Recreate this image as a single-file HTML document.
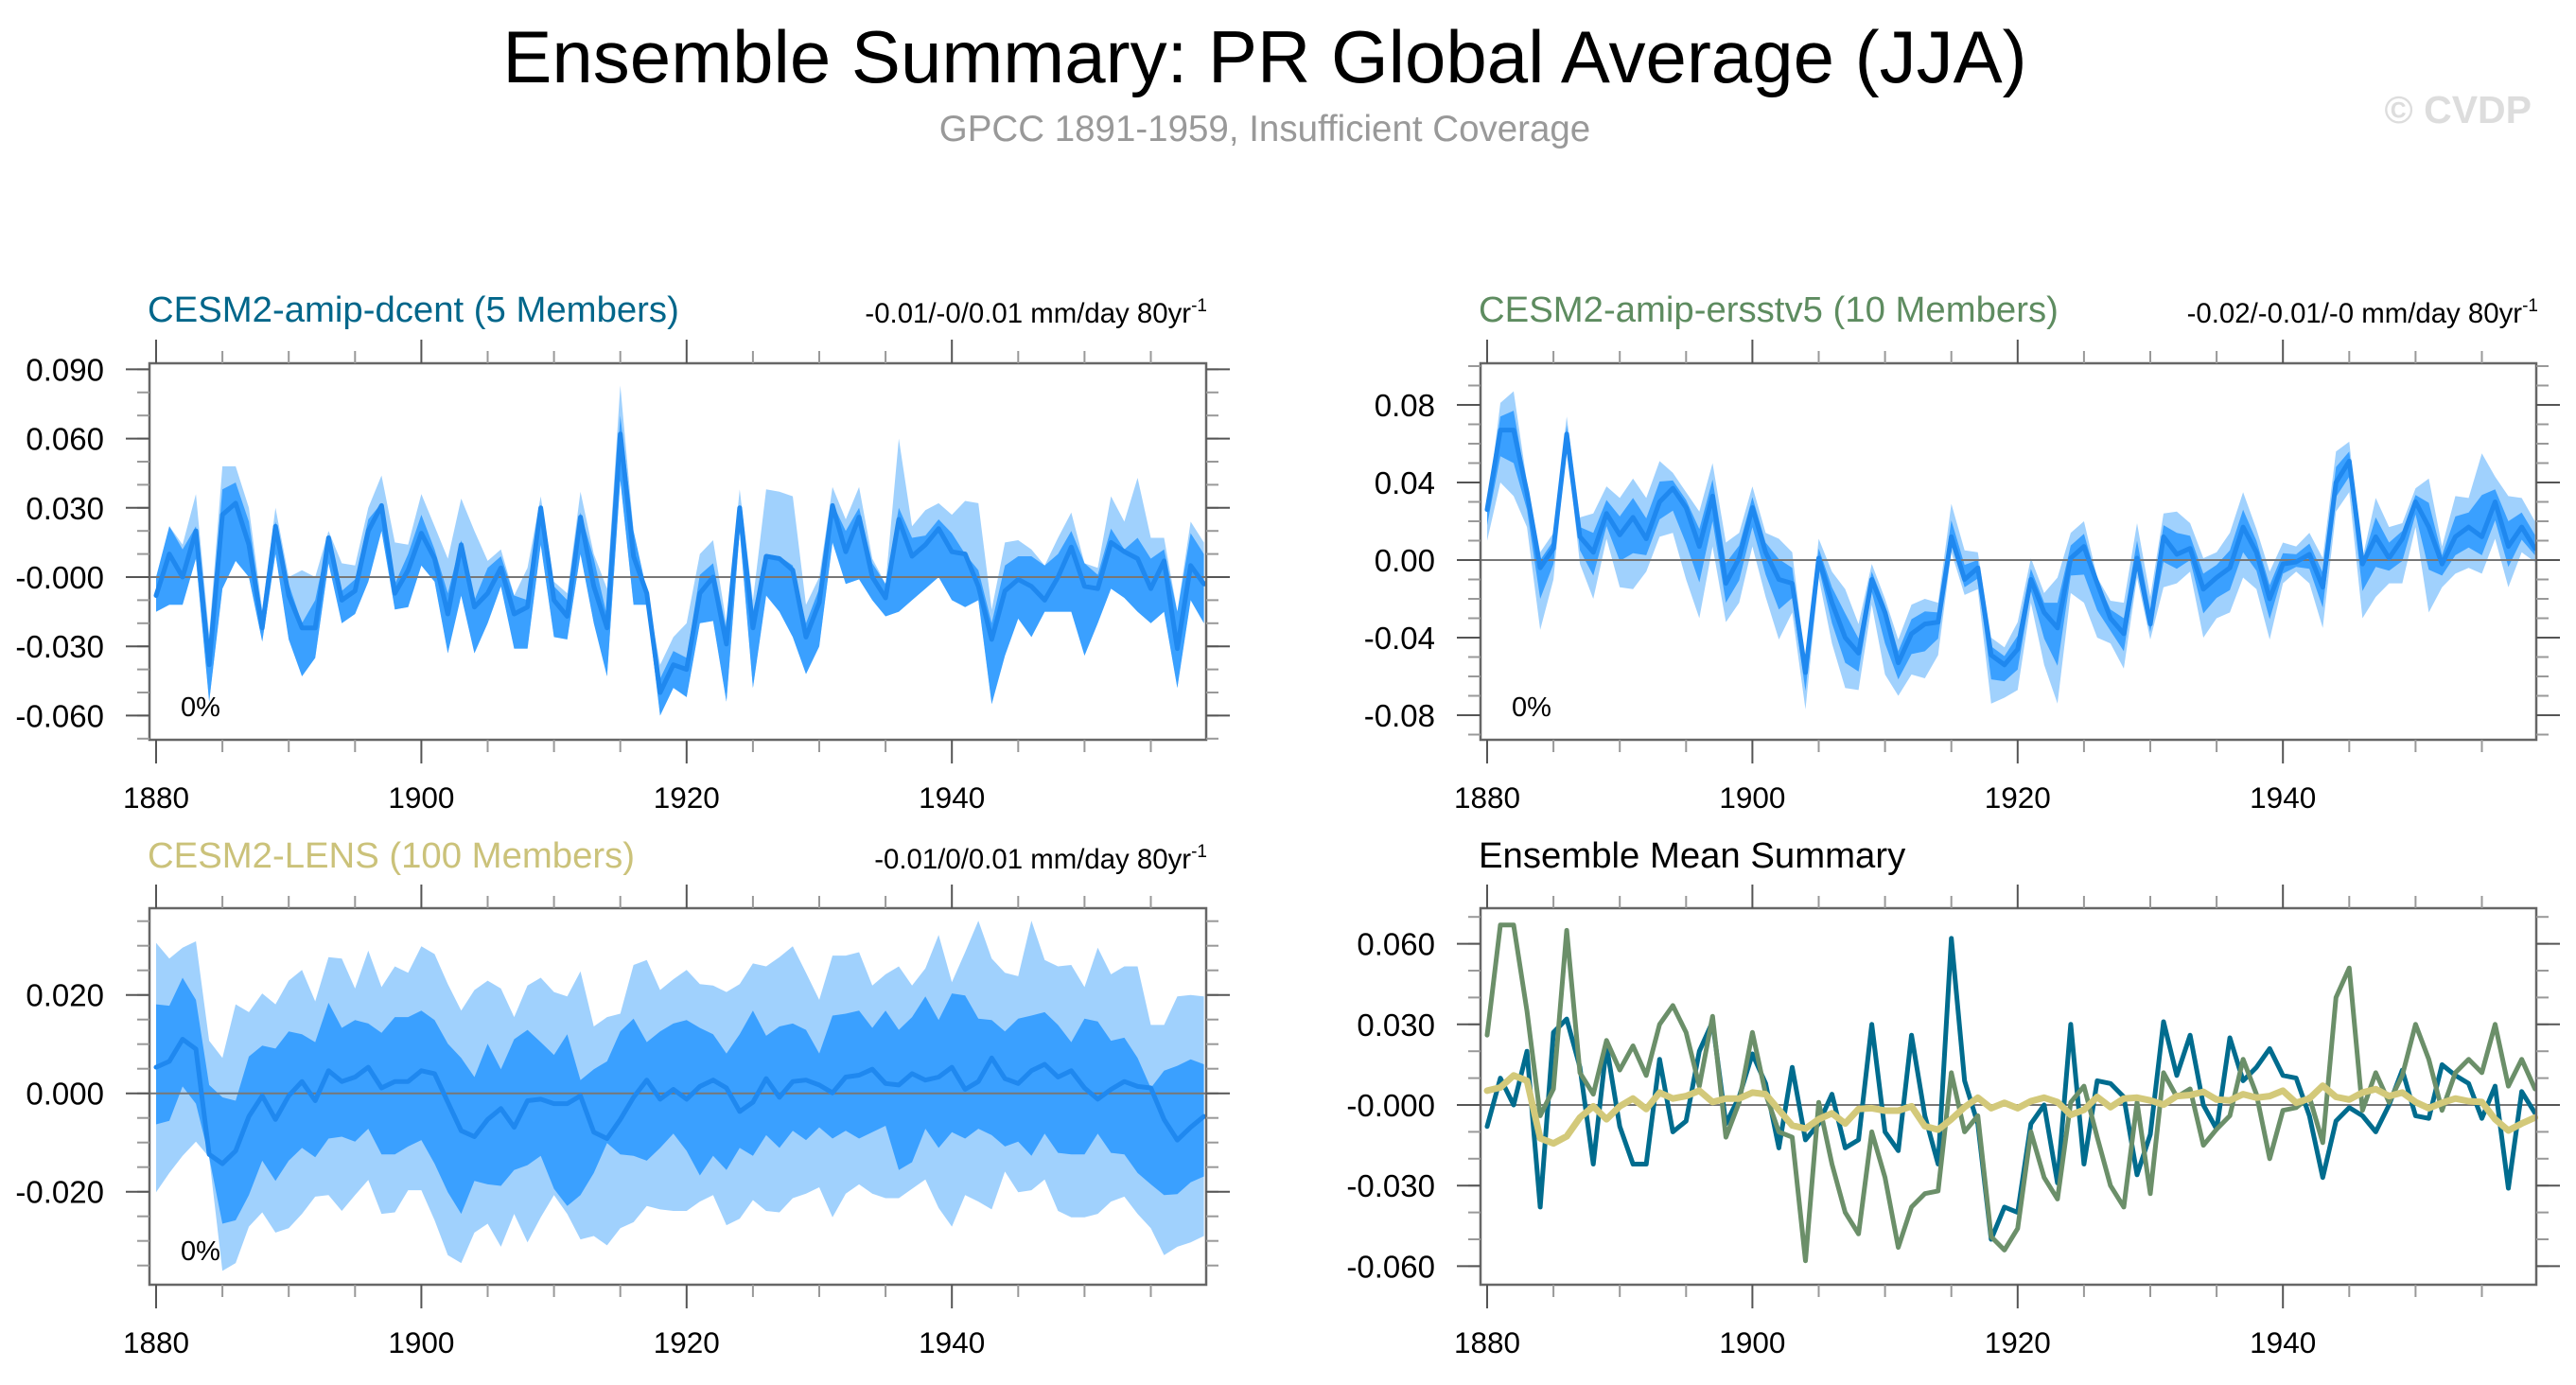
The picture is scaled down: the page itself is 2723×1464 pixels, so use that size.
<!DOCTYPE html>
<html><head><meta charset="utf-8">
<style>
html,body{margin:0;padding:0;background:#fff;}
svg{display:block;font-family:"Liberation Sans",sans-serif;}
</style></head>
<body>
<svg id="chart" width="2723" height="1464" viewBox="0 0 2723 1464" xmlns="http://www.w3.org/2000/svg">
<rect x="0" y="0" width="2723" height="1464" fill="#fff"/>
<text x="1337" y="87" font-size="78" text-anchor="middle" fill="#000">Ensemble Summary: PR Global Average (JJA)</text>
<text x="1337" y="149" font-size="38.5" text-anchor="middle" fill="#999">GPCC 1891-1959, Insufficient Coverage</text>
<text x="2676" y="130" font-size="41" font-weight="bold" text-anchor="end" fill="#ddd">© CVDP</text>

<text x="156" y="340" font-size="38.3" fill="#00668a">CESM2-amip-dcent (5 Members)</text>
<text x="1276" y="341" font-size="29.4" text-anchor="end" fill="#000">-0.01/-0/0.01 mm/day 80yr<tspan dy="-12" font-size="19">-1</tspan></text>
<text x="1563" y="340" font-size="38.3" fill="#5e8c60">CESM2-amip-ersstv5 (10 Members)</text>
<text x="2683" y="341" font-size="29.4" text-anchor="end" fill="#000">-0.02/-0.01/-0 mm/day 80yr<tspan dy="-12" font-size="19">-1</tspan></text>
<text x="156" y="917" font-size="38.3" fill="#cbc27a">CESM2-LENS (100 Members)</text>
<text x="1276" y="918" font-size="29.4" text-anchor="end" fill="#000">-0.01/0/0.01 mm/day 80yr<tspan dy="-12" font-size="19">-1</tspan></text>
<text x="1563" y="917" font-size="38.3" fill="#000">Ensemble Mean Summary</text>
</svg>
<script>
// ---- data (values in 0.001 mm/day), years 1880-1959 ----
const years = Array.from({length:80},(_,i)=>1880+i);
const dcentMean = [-8,10,0,20,-38,27,32,14,-22,22, -8,-22,-22,17,-10,-6,20,31,-7,3, 19,8,-16,14,-13,-7,4,-16,-13,30, -10,-17,26,-4,-22,62,9,-7,-50,-38, -40,-7,0,-29,30,-22,9,8,3,-26, -11,31,11,26,0,-9,25,9,14,21, 11,10,-4,-27,-6,-1,-4,-10,0,13, -4,-5,15,11,8,-5,7,-31,5,-3];
const dcentLo = [-15,-12,-12,8,-54,-5,7,0,-28,10, -27,-43,-35,6,-20,-16,-2,20,-14,-13, 5,-2,-33,-8,-33,-20,-4,-31,-31,14, -26,-27,10,-20,-43,42,-12,-12,-60,-48, -52,-20,-19,-54,20,-48,-8,-15,-26,-42, -30,15,-3,-1,-10,-17,-15,-10,-5,0, -10,-13,-10,-55,-34,-18,-26,-15,-15,-15, -34,-20,-5,-9,-15,-20,-15,-48,-10,-20];
const dcentInnerHi = [0,22,12,22,-30,38,41,24,-16,24, -3,-20,-10,18,-6,-1,25,32,-3,10, 27,12,-7,16,-10,4,9,-8,-10,31, -4,-10,28,8,-17,70,20,-6,-44,-32, -35,1,6,-23,31,-15,10,9,5,-20, -5,32,20,30,6,-3,30,17,18,25, 19,10,3,-20,5,9,9,5,10,20, 6,1,21,12,17,8,12,-15,19,10];
const dcentHi = [0,22,14,36,-25,48,48,30,-14,30, 0,3,0,20,6,5,30,44,15,14, 36,22,8,34,20,7,12,-8,4,35, -2,-7,37,10,-5,83,20,-6,-38,-26, -20,10,16,-20,38,-10,38,37,35,-12, 0,39,25,39,8,-3,60,22,29,32, 27,33,32,-14,15,16,12,5,17,28, 6,4,35,24,43,17,17,-15,24,15];

const ersstMean = [26,67,67,35,-4,6,65,12,4,24, 13,22,11,30,37,27,7,33,-12,1, 27,4,-10,-12,-58,1,-22,-40,-48,-10, -27,-53,-38,-33,-32,12,-10,-4,-49,-54, -46,-10,-27,-35,1,7,-12,-30,-38,1, -33,12,3,6,-15,-9,-4,17,4,-20, -2,-1,3,-14,40,51,-2,12,1,11, 30,17,-2,12,17,12,30,7,17,6];
const ersstLo = [10,40,33,17,-36,-10,60,-2,-20,11, -14,-15,-6,12,14,-10,-30,7,-32,-22, 7,-19,-41,-27,-77,-9,-43,-66,-67,-23, -59,-70,-59,-61,-49,4,-18,-15,-74,-71, -67,-22,-54,-74,-17,-22,-40,-43,-56,-9, -41,-14,-12,-6,-40,-30,-27,-9,-15,-41, -12,-6,-12,-35,25,35,-30,-19,-12,-12, 17,-27,-14,-7,-4,-7,11,-14,4,-1];
const ersstHi = [26,81,87,40,4,14,74,22,24,38, 32,42,32,51,45,35,25,50,9,14, 38,14,11,4,-53,11,-6,-15,-33,-2, -20,-41,-23,-20,-22,29,5,4,-40,-45, -32,1,-17,-9,14,20,-9,-21,-22,19, -19,24,25,19,1,4,14,35,16,-6, 9,7,14,1,56,61,1,32,17,19, 37,42,7,33,32,55,43,33,32,20];

const lensMean = [5.3,6.5,11,9,-12.4,-14.3,-11.7,-4.7,-0.5,-5.3, -0.5,2.4,-1.5,4.6,2.4,3.3,5.3,1.1,2.4,2.4, 4.6,4,-1.8,-7.6,-8.8,-5.3,-3.1,-6.9,-1.5,-1.2, -2.1,-2.1,-0.5,-7.9,-9.2,-5.3,-0.8,2.7,-1.2,0.8, -1.2,1.4,2.7,1.1,-3.7,-1.8,3,-0.8,2.4,2.7, 1.7,0.1,3.3,3.7,4.9,2,1.7,4,2.7,3.3, 5.3,0.8,2.4,7.2,3,2,4.6,5.9,3.3,4.6, 1.1,-1.2,0.8,2.4,1.4,1.1,-5.3,-9.5,-6.9,-4.7];
const lensLo = [-20.1,-16.2,-12.7,-9.8,-13,-36.1,-34.5,-27.1,-24.2,-28.3, -27.4,-24.5,-21,-20.7,-23.9,-20.7,-17.6,-24.5,-24.2,-19.7, -19.7,-25.8,-32.9,-34.5,-28.3,-26.5,-31.2,-24.5,-30.3,-25.2, -20.7,-24.5,-29.7,-29,-30.9,-27.4,-26.2,-22.9,-23.6,-23.9, -23.9,-22,-20.7,-26.8,-25.5,-21.7,-23.9,-24.2,-21.3,-20.4, -19.1,-25.2,-20.4,-18.5,-20.4,-21.3,-21.3,-19.4,-17.5,-23.3, -27.1,-20.7,-22,-23.6,-15.9,-20.1,-19.7,-17.5,-23.9,-25.2, -25.2,-24.5,-22,-21,-24.5,-27.4,-32.9,-31.2,-30.3,-29];
const lensInnerLo = [-6.3,-5.6,1.4,-2.1,-13,-26.5,-25.8,-20.7,-13.7,-17.8, -13.7,-11.1,-13,-9.2,-8.8,-9.8,-7.2,-12.4,-12.4,-10.8, -9.5,-14.3,-20.1,-24.5,-17.8,-18.5,-18.8,-15.6,-14.6,-12.7, -19.4,-22.9,-20.7,-16.2,-10.1,-12.4,-12.7,-13.7,-11.1,-8.2, -11.7,-16.7,-12.7,-15.6,-11.1,-12.7,-8.5,-11.1,-7.6,-9.5, -6.9,-9.2,-7.6,-9.2,-7.9,-6.6,-15.6,-14,-7.2,-11.1, -7.9,-9.2,-7.2,-8.5,-10.8,-9.8,-12.7,-8.2,-12.1,-12.4, -12.4,-8.2,-12.1,-12.4,-16.2,-18.5,-20.7,-20.5,-18.1,-16.9];
const lensInnerHi = [18.1,17.8,23.5,19,1.7,-0.8,-1.5,7.5,9.7,9.1, 12.6,12,10.4,18.4,13.3,14.9,14.2,12.3,15.5,15.5, 16.8,14.9,10.1,7.2,3.3,10.1,4.9,11,12.9,10.4, 7.8,12,2.7,4.9,6.5,12.6,15.2,10.4,12.6,14.2, 14.9,13.3,12,8.1,12,16.8,11.7,13.6,14.2,12.9, 8.1,15.8,16.2,16.8,13.3,16.8,12.9,15.5,19.7,14.9, 20.3,19.9,15.2,14.9,12.6,15.2,15.8,16.5,13.9,10.4, 15.2,14.6,10.7,11.3,7.2,1.1,4.6,5.6,6.9,5.9];
const lensHi = [30.6,27.4,29.6,30.9,10.7,7.2,18.1,16.5,20.3,18.1, 22.9,25.1,18.7,27.7,27.4,21.3,29,21.6,25.8,24.5, 29.9,28.3,22.2,16.8,21,22.9,21.3,15.5,21.9,23.5, 20.6,19.7,24.8,13.6,15.5,16.2,26.1,27.1,21,23.2, 25.1,22.2,21.9,20.6,22.2,26.4,25.8,27.7,29.9,24.5, 19,28,28,28.7,21.9,24.2,25.8,21.9,25.4,32.2, 22.6,28.7,35.1,27.4,24.5,23.8,35.1,27.1,25.8,26.1, 21.6,29.6,24.2,25.8,25.8,13.9,13.9,19.7,20,19.7];

const p1Ticks = [0.09,0.06,0.03,0,-0.03,-0.06];
const p1Labels = ["0.090","0.060","0.030","-0.000","-0.030","-0.060"];
const p2Ticks = [0.08,0.04,0,-0.04,-0.08];
const p2Labels = ["0.08","0.04","0.00","-0.04","-0.08"];
const p3Ticks = [0.02,0,-0.02];
const p3Labels = ["0.020","0.000","-0.020"];
const p4Ticks = [0.06,0.03,0,-0.03,-0.06];
const p4Labels = ["0.060","0.030","-0.000","-0.030","-0.060"];
const xTicks = [1880,1900,1920,1940];
const xLabels = ["1880","1900","1920","1940"];

const NS="http://www.w3.org/2000/svg";
const svg=document.getElementById('chart');
function mk(tag,attrs,parent){const e=document.createElementNS(NS,tag);for(const k in attrs)e.setAttribute(k,attrs[k]);(parent||svg).appendChild(e);return e;}

function panel(cfg){
  const g=mk('g',{});
  
  
  const X=yr=>cfg.x1880+(yr-1880)*14.02;
  const Y=v=>cfg.y0-v*cfg.ppu;
  const Yk=v=>Y(v/1000);
  const L=cfg.bl, R=cfg.br, T=cfg.bt, B=cfg.bb;
  function band(lo,hi,fill,nm){
    let pts=[];
    years.forEach((y,i)=>pts.push(X(y).toFixed(1)+','+Yk(hi[i]).toFixed(1)));
    for(let i=years.length-1;i>=0;i--)pts.push(X(years[i]).toFixed(1)+','+Yk(lo[i]).toFixed(1));
    const p=mk('polygon',{points:pts.join(' '),fill:fill},g);
    
    
  }
  function line(vals,color,w,nm){
    const pts=years.map((y,i)=>X(y).toFixed(1)+','+Yk(vals[i]).toFixed(1)).join(' ');
    const p=mk('polyline',{points:pts,fill:'none',stroke:color,'stroke-width':w,'stroke-linejoin':'round','stroke-linecap':'round'},g);
    
    
  }
  if(cfg.series){
    const s=cfg.series;
    band(s.lo,s.hi,'#a0d1fd',cfg.name+'-range-band');
    band(s.ilo,s.ihi,'#3aa0ff',cfg.name+'-inner-band');
  }
  const z=mk('line',{x1:L,x2:R,y1:Y(0),y2:Y(0),stroke:'#777','stroke-width':2},g);
  
  
  if(cfg.series){ line(cfg.series.mean,'#1f88ef',5,cfg.name+'-mean-line'); }
  if(cfg.lines){ cfg.lines.forEach(l=>line(l.vals,l.color,l.w,l.name)); }
  const bx=mk('rect',{x:L,y:T,width:R-L,height:B-T,fill:'none',stroke:'#666','stroke-width':2.5},g);
  
  
  for(let yr=1880; yr<1960; yr+=5){
    const major=(yr%20===0), len=major?25:13, x=X(yr);
    mk('line',{x1:x,x2:x,y1:T,y2:T-len,stroke:major?'#555':'#999','stroke-width':2},g);
    mk('line',{x1:x,x2:x,y1:B,y2:B+len,stroke:major?'#555':'#999','stroke-width':2},g);
  }
  xTicks.forEach((t,i)=>{
    const tx=mk('text',{x:X(t),y:B+72,'font-size':31.5,'text-anchor':'middle',fill:'#000'},g);
    tx.textContent=xLabels[i];
    
    
  });
  const lo=(cfg.y0-B)/cfg.ppu, hi=(cfg.y0-T)/cfg.ppu;
  for(let v=Math.ceil(lo/cfg.minor)*cfg.minor; v<=hi+1e-9; v+=cfg.minor){
    const y=Y(v);
    if(y<T-1||y>B+1) continue;
    mk('line',{x1:L,x2:L-13,y1:y,y2:y,stroke:'#999','stroke-width':2},g);
    mk('line',{x1:R,x2:R+13,y1:y,y2:y,stroke:'#999','stroke-width':2},g);
  }
  cfg.ticks.forEach((t,i)=>{
    const y=Y(t);
    mk('line',{x1:L,x2:L-25,y1:y,y2:y,stroke:'#555','stroke-width':2},g);
    mk('line',{x1:R,x2:R+25,y1:y,y2:y,stroke:'#555','stroke-width':2},g);
    const tx=mk('text',{x:L-48,y:y+12,'font-size':33,'text-anchor':'end',fill:'#000'},g);
    tx.textContent=cfg.labels[i];
    
    
  });
  if(cfg.pct){
    const tx=mk('text',{x:L+33,y:cfg.pctY,'font-size':29,fill:'#000'},g);
    tx.textContent='0%';
    
    
  }
}

const half=(m,b)=>m.map((v,i)=>v+(b[i]-v)*0.5);

panel({name:'panel-dcent',x1880:165,bl:158,br:1275,bt:384,bb:782,y0:610,ppu:2440,minor:0.01,ticks:p1Ticks,labels:p1Labels,pct:true,pctY:757,
  series:{mean:dcentMean,lo:dcentLo,hi:dcentHi,ilo:dcentLo,ihi:dcentInnerHi}});
panel({name:'panel-ersstv5',x1880:1572,bl:1565,br:2681,bt:384,bb:782,y0:592,ppu:2050,minor:0.01,ticks:p2Ticks,labels:p2Labels,pct:true,pctY:757,
  series:{mean:ersstMean,lo:ersstLo,hi:ersstHi,ilo:half(ersstMean,ersstLo),ihi:half(ersstMean,ersstHi)}});
panel({name:'panel-lens',x1880:165,bl:158,br:1275,bt:960,bb:1358,y0:1155.7,ppu:5200,minor:0.005,ticks:p3Ticks,labels:p3Labels,pct:true,pctY:1332,
  series:{mean:lensMean,lo:lensLo,hi:lensHi,ilo:lensInnerLo,ihi:lensInnerHi}});
panel({name:'panel-ensemble-mean',x1880:1572,bl:1565,br:2681,bt:960,bb:1358,y0:1168,ppu:2840,minor:0.01,ticks:p4Ticks,labels:p4Labels,pct:false,
  lines:[{vals:dcentMean,color:'#006c8e',w:5,name:'dcent-mean-line'},
         {vals:ersstMean,color:'#6b8f69',w:5,name:'ersstv5-mean-line'},
         {vals:lensMean,color:'#d3c97a',w:7,name:'lens-mean-line'}]});
</script>
</body></html>
